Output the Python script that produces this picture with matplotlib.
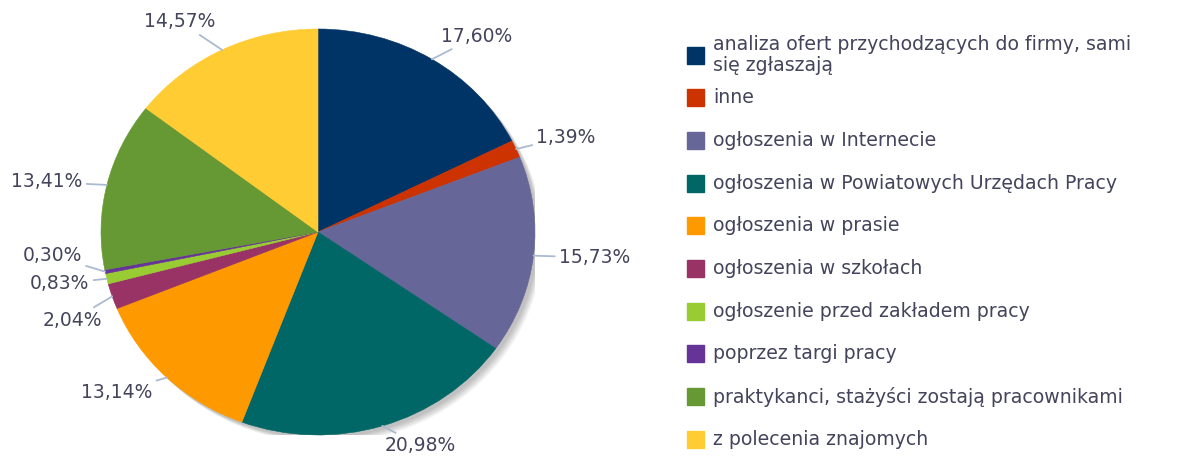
import matplotlib
matplotlib.use("Agg")
import matplotlib.pyplot as plt
import matplotlib.transforms as mtransforms
from matplotlib.patches import Ellipse, Rectangle
import numpy as np

plt.rcParams['font.family'] = ['DejaVu Sans']

# dane z wykresu
labels = [
    "analiza ofert przychodzących do firmy, sami\nsię zgłaszają",
    "inne",
    "ogłoszenia w Internecie",
    "ogłoszenia w Powiatowych Urzędach Pracy",
    "ogłoszenia w prasie",
    "ogłoszenia w szkołach",
    "ogłoszenie przed zakładem pracy",
    "poprzez targi pracy",
    "praktykanci, stażyści zostają pracownikami",
    "z polecenia znajomych",
]
values = [17.60, 1.39, 15.73, 20.98, 13.14, 2.04, 0.83, 0.30, 13.41, 14.57]
pct_text = ["17,60%", "1,39%", "15,73%", "20,98%", "13,14%",
            "2,04%", "0,83%", "0,30%", "13,41%", "14,57%"]
colors = ["#003366", "#cc3300", "#666699", "#006666", "#ff9900",
          "#993366", "#99cc33", "#663399", "#669933", "#ffcc33"]

# przesuniecia etykiet (piksele) wzgledem krawedzi wycinka
label_offsets = [(45, 23), (50, 12), (61, -2), (38, -20), (-50, -15),
                 (-40, -24), (-47, -5), (-53, 16), (-60, 3), (-42, 28)]

text_color = "#44445c"
line_color = "#aabbd0"

W, H = 1177, 457
fig = plt.figure(figsize=(W / 100, H / 100), dpi=100)

# os kola (lekko eliptyczna jak w oryginale)
cx, cy, rx, ry = 318, 232, 217, 203
ax = fig.add_axes([(cx - rx) / W, (H - cy - ry) / H, 2 * rx / W, 2 * ry / H])

# cien
for off in [8, 7, 6, 5, 4, 3]:
    tr = ax.transData + mtransforms.ScaledTranslation(off / 100, -off / 100, fig.dpi_scale_trans)
    ax.add_patch(Ellipse((0, 0), 2, 2, transform=tr, color="#000000",
                         alpha=0.045, lw=0, zorder=0))

wedges, _ = ax.pie(values, colors=colors, startangle=90, counterclock=False,
                   wedgeprops=dict(linewidth=0.4))
for w, c in zip(wedges, colors):
    w.set_zorder(2)
    w.set_edgecolor(c)
ax.set_aspect("auto")
ax.set_xlim(-1, 1)
ax.set_ylim(-1, 1)
ax.axis("off")

for w, txt, (dx, dy) in zip(wedges, pct_text, label_offsets):
    ang = np.deg2rad((w.theta1 + w.theta2) / 2)
    x, y = np.cos(ang), np.sin(ang)
    ax.annotate(txt, xy=(x, y), xytext=(dx, dy), textcoords="offset pixels",
                ha="center", va="center", fontsize=13.5, color=text_color,
                annotation_clip=False,
                arrowprops=dict(arrowstyle="-", color=line_color, lw=1.3,
                                shrinkA=1, shrinkB=0))

# legenda rysowana recznie
lax = fig.add_axes([0, 0, 1, 1])
lax.set_xlim(0, W)
lax.set_ylim(H, 0)
lax.axis("off")
lax.patch.set_alpha(0)
y0, pitch = 55, 42.7
for i, (lab, col) in enumerate(zip(labels, colors)):
    y = y0 + i * pitch
    lax.add_patch(Rectangle((687, y - 8.5), 17, 17, color=col))
    lax.text(713, y, lab, ha="left", va="center", fontsize=13.6,
             color=text_color, linespacing=1.08)

fig.savefig("out.png", dpi=100)
